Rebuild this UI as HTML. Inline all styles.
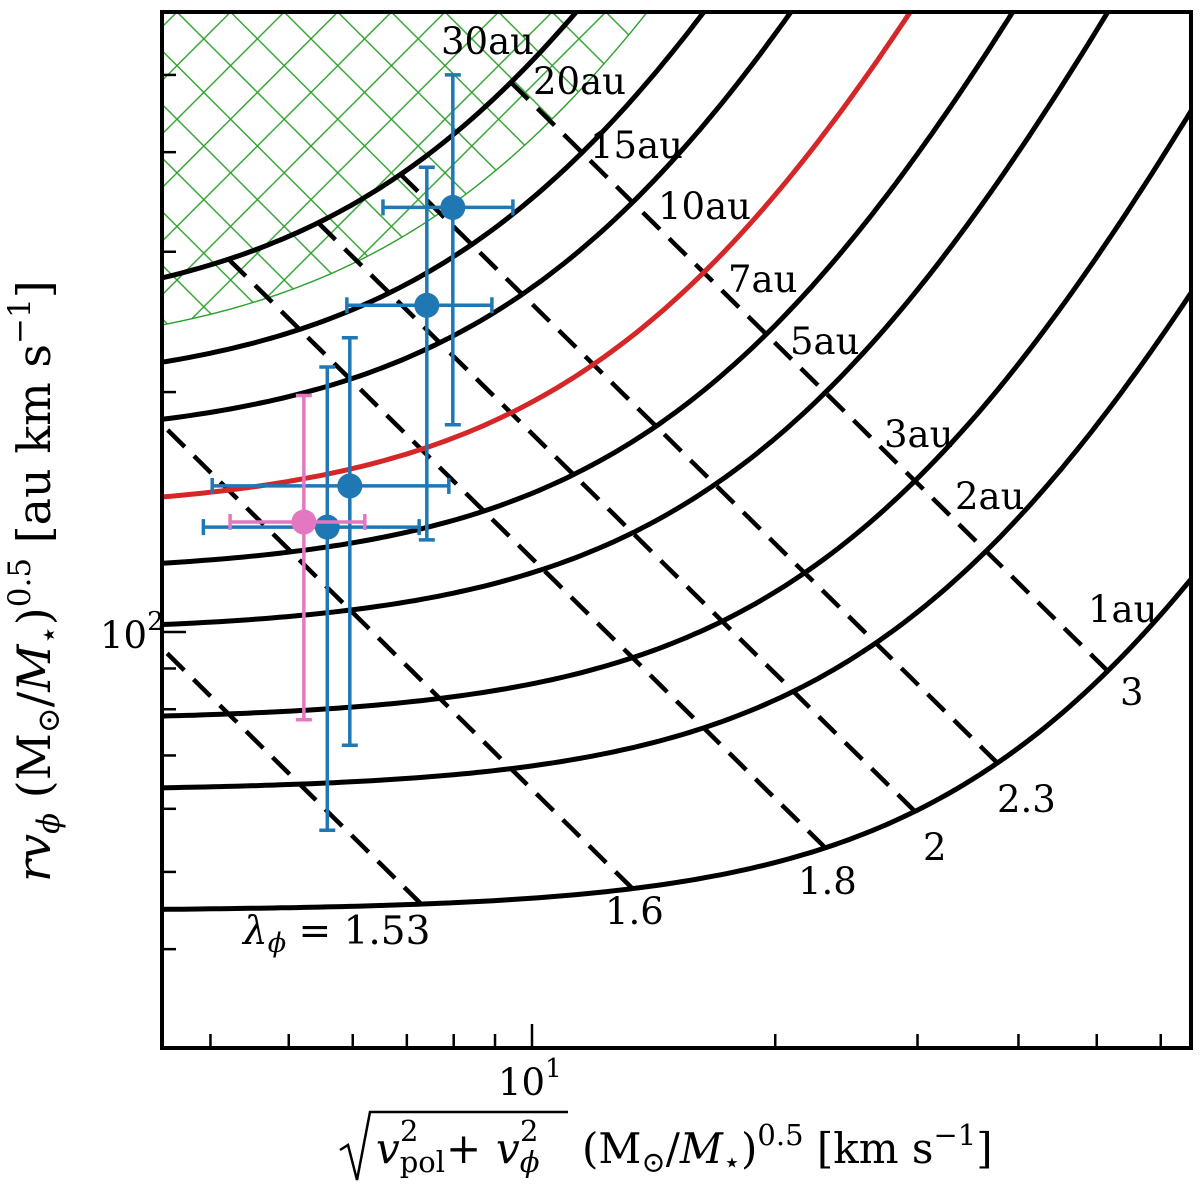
<!DOCTYPE html>
<html><head><meta charset="utf-8"><style>
html,body{margin:0;padding:0;background:#fff;}
svg{display:block;font-family:"DejaVu Serif","Liberation Serif",serif;}
</style></head><body>
<svg id="chart" width="1200" height="1195" viewBox="0 0 1200 1195" xmlns="http://www.w3.org/2000/svg">
<defs>
<clipPath id="plotclip"><rect x="162" y="12" width="1029" height="1036"/></clipPath>
<pattern id="hatch" patternUnits="userSpaceOnUse" width="53.6" height="53.6" x="177" y="12">
<path d="M0,0 L53.6,53.6 M53.6,0 L0,53.6 M-5,48.6 L5,58.6 M48.6,-5 L58.6,5" stroke="#2ca02c" stroke-width="1.4" fill="none"/>
</pattern>
</defs>
<g id="plot" clip-path="url(#plotclip)"></g>
<g id="overlay"></g>
</svg>
<script>
// ---- data ----
const radiiAu = [1, 2, 3, 5, 7, 10, 15, 20, 30];
const redRadius = 10;
const lambdas = [1.53, 1.6, 1.8, 2, 2.3, 3];
const hatchRadius = 24;
const ptX = [7.98, 7.41, 5.95, 5.58];
const ptXlo = [6.54, 5.90, 4.02, 3.92];
const ptXhi = [9.47, 8.92, 7.89, 7.25];
const ptY = [341, 257, 152.5, 135.4];
const ptYlo = [182, 130.5, 72.1, 56.4];
const ptYhi = [500, 383, 234, 215];
const pinkX = [5.22], pinkXlo = [4.23], pinkXhi = [6.21];
const pinkY = [137.4], pinkYlo = [77.6], pinkYhi = [198];
const xMinorTicks = [4, 5, 6, 7, 8, 9, 20, 30, 40, 50, 60];
const xMajorTicks = [10];
const yMinorTicks = [40, 50, 60, 70, 80, 90, 200, 300, 400, 500];
const yMajorTicks = [100];
const VK1 = 29.78; // km/s at 1 au

// ---- axes ----
const L=162,R=1191,T=12,B=1048;
function X(v){return 532+808*(Math.log10(v)-1);}
function Y(j){return 632-797*(Math.log10(j)-2);}
const NS="http://www.w3.org/2000/svg";
const plot=document.getElementById('plot'), ov=document.getElementById('overlay');
function mk(tag,attrs,parent){const e=document.createElementNS(NS,tag);for(const k in attrs)e.setAttribute(k,attrs[k]);(parent||plot).appendChild(e);return e;}
function curveR(r){const pts=[];const vk=VK1/Math.sqrt(r);
  for(let i=0;i<=400;i++){const s=Math.pow(10,-5+i*7.5/400);const lam=(s+3)/2;
    pts.push([X(Math.sqrt(s)*vk),Y(lam*VK1*Math.sqrt(r))]);}
  return pts;}
function d(pts){return 'M'+pts.map(p=>p[0].toFixed(1)+','+p[1].toFixed(1)).join(' L');}

// hatch region
const hp=curveR(hatchRadius).filter(p=>p[0]>=L-50&&p[1]>=T-50);
const hatch=mk('path',{d:d(hp)+' L'+L+','+(T-60)+' L'+(L-60)+','+(T-60)+' Z',fill:'url(#hatch)',stroke:'none'});


const hb=mk('path',{d:d(hp),fill:'none',stroke:'#2ca02c','stroke-width':1.4});



// dashed constant-lambda lines
lambdas.forEach(lam=>{const pts=[];
  for(let i=0;i<=40;i++){const r=Math.pow(10,i*Math.log10(30)/40);
    pts.push([X(Math.sqrt(2*lam-3)*VK1/Math.sqrt(r)),Y(lam*VK1*Math.sqrt(r))]);}
  const e=mk('path',{d:d(pts),fill:'none',stroke:'#000','stroke-width':4.5,'stroke-dasharray':'24 13'});
  
  
});
// solid constant-radius curves
radiiAu.forEach(r=>{
  const e=mk('path',{d:d(curveR(r)),fill:'none',stroke:r===redRadius?'#d62728':'#000','stroke-width':5});
  
  
});
// error bars
function errpt(x,xl,xh,y,yl,yh,col,name){
  const g=mk('g',{});
  
  
  const cx=X(x),cy=Y(y),c=8;
  mk('line',{x1:X(xl),x2:X(xh),y1:cy,y2:cy,stroke:col,'stroke-width':3.5},g);
  mk('line',{x1:cx,x2:cx,y1:Y(yl),y2:Y(yh),stroke:col,'stroke-width':3.5},g);
  [X(xl),X(xh)].forEach(px=>mk('line',{x1:px,x2:px,y1:cy-c,y2:cy+c,stroke:col,'stroke-width':3.5},g));
  [Y(yl),Y(yh)].forEach(py=>mk('line',{x1:cx-c,x2:cx+c,y1:py,y2:py,stroke:col,'stroke-width':3.5},g));
  mk('circle',{cx:cx,cy:cy,r:12.5,fill:col},g);
}
for(let i=0;i<ptX.length;i++)errpt(ptX[i],ptXlo[i],ptXhi[i],ptY[i],ptYlo[i],ptYhi[i],'#1f77b4','blue-point-'+(i+1));
errpt(pinkX[0],pinkXlo[0],pinkXhi[0],pinkY[0],pinkYlo[0],pinkYhi[0],'#e377c2','pink-point');

// frame & ticks
const fr=mk('rect',{x:L,y:T,width:R-L,height:B-T,fill:'none',stroke:'#000','stroke-width':4},ov);


xMinorTicks.forEach(v=>{const t=mk('line',{x1:X(v),x2:X(v),y1:B,y2:B-14,stroke:'#000','stroke-width':2.5},ov);
  
  });
xMajorTicks.forEach(v=>{const t=mk('line',{x1:X(v),x2:X(v),y1:B,y2:B-24,stroke:'#000','stroke-width':2.5},ov);
  
  });
yMinorTicks.forEach(v=>{const t=mk('line',{x1:L,x2:L+14,y1:Y(v),y2:Y(v),stroke:'#000','stroke-width':2.5},ov);
  
  });
yMajorTicks.forEach(v=>{const t=mk('line',{x1:L,x2:L+24,y1:Y(v),y2:Y(v),stroke:'#000','stroke-width':2.5},ov);
  
  });
</script>
<script>
const ovl=document.getElementById('overlay');
ovl.insertAdjacentHTML('beforeend',`
<g font-size="37" fill="#000">
<text x="441" y="54">30au</text>
<text x="533" y="94">20au</text>
<text x="590" y="158">15au</text>
<text x="658" y="219">10au</text>
<text x="728" y="292">7au</text>
<text x="790" y="354">5au</text>
<text x="884" y="447">3au</text>
<text x="955" y="509">2au</text>
<text x="1088" y="622">1au</text>
<text x="243" y="944" font-size="39"><tspan font-style="italic">λ</tspan><tspan font-style="italic" font-size="27" dy="8">ϕ</tspan><tspan dy="-8"> =  1.53</tspan></text>
<text x="605" y="924">1.6</text>
<text x="798" y="894">1.8</text>
<text x="923" y="860">2</text>
<text x="997" y="812">2.3</text>
<text x="1120" y="705">3</text>
<text x="498" y="1095">10<tspan font-size="26" dy="-18">1</tspan></text>
<text x="100" y="648">10<tspan font-size="26" dy="-18">2</tspan></text>
</g>
<g font-size="42">
<path d="M340,1150 L348,1145 L357,1180 L370,1112 L568,1112" fill="none" stroke="#000" stroke-width="2.5"/>
<text x="376" y="1163"><tspan font-style="italic">v</tspan><tspan font-size="29" dy="9">pol</tspan><tspan font-size="29" x="400" dy="-31">2</tspan><tspan dy="22" x="446">+</tspan><tspan x="496" font-style="italic">v</tspan><tspan font-size="29" font-style="italic" dy="9">ϕ</tspan><tspan font-size="29" x="520" dy="-31">2</tspan><tspan x="582" dy="22">(M</tspan><tspan font-size="29" dy="9">⊙</tspan><tspan dy="-9">/</tspan><tspan font-style="italic">M</tspan><tspan font-size="29" dy="9">⋆</tspan><tspan dy="-9">)</tspan><tspan font-size="29" dy="-18">0.5</tspan><tspan dy="18"> [km s</tspan><tspan font-size="29" dy="-18">−1</tspan><tspan dy="18">]</tspan></text>
</g>
<text font-size="46" transform="translate(50,882) rotate(-90)" x="0" y="0"><tspan font-style="italic">rv</tspan><tspan font-size="31" font-style="italic" dy="9">ϕ</tspan><tspan dy="-9"> (M</tspan><tspan font-size="31" dy="9">⊙</tspan><tspan dy="-9">/</tspan><tspan font-style="italic">M</tspan><tspan font-size="31" dy="9">⋆</tspan><tspan dy="-9">)</tspan><tspan font-size="31" dy="-20">0.5</tspan><tspan dy="20"> [au km s</tspan><tspan font-size="31" dy="-20">−1</tspan><tspan dy="20">]</tspan></text>
`);
</script>
</body></html>
